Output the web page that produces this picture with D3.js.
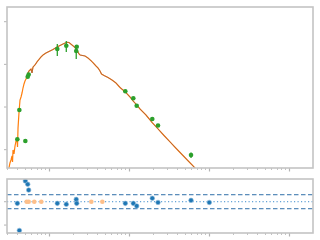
<!DOCTYPE html>
<html><head><meta charset="utf-8">
<script src="https://cdn.jsdelivr.net/npm/d3@7"></script>
<style>html,body{margin:0;padding:0;background:#fff;}svg{display:block;}</style>
</head><body>
<svg id="c" width="320" height="240"></svg>
<script>
// Model spectrum (wavelength, flux)
const modelWave = [316,325,335,345,350,355,365,376,387,398,404,410,422,434,447,460,473,487,501,516,531,546,562,579,596,613,631,668,708,750,794,841,917,1029,1122,1259,1413,1540,1679,1778,1939,2113,2239,2371,2441,2818,3073,3447,3868,4097,4340,4530,4870,5464,6130,6879,7718,8913,10290,11220,12480,13730,16310,19390,23050,27380,32550,38680,45970,54640,66830,77180];
const modelFlux = [3.73e-15,4.89e-15,5.74e-15,7.13e-15,5.15e-15,9.84e-15,7.93e-15,1.22e-14,1.60e-14,1.69e-14,1.16e-14,3.23e-14,7.66e-14,1.46e-13,1.72e-13,2.13e-13,2.79e-13,3.47e-13,4.07e-13,4.54e-13,5.34e-13,6.28e-13,7.00e-13,7.38e-13,7.78e-13,6.28e-13,8.67e-13,9.66e-13,1.14e-12,1.30e-12,1.49e-12,1.66e-12,1.85e-12,2.06e-12,2.23e-12,2.55e-12,2.84e-12,3.08e-12,3.29e-12,3.26e-12,2.84e-12,2.48e-12,2.17e-12,1.75e-12,1.66e-12,1.57e-12,1.41e-12,1.16e-12,9.16e-13,8.22e-13,7.00e-13,5.94e-13,5.48e-13,4.92e-13,4.30e-13,3.66e-13,2.87e-13,2.29e-13,1.72e-13,1.39e-13,1.12e-13,8.99e-14,6.50e-14,4.35e-14,3.06e-14,2.15e-14,1.52e-14,1.08e-14,7.72e-15,5.50e-15,3.73e-15,2.84e-15];
// Observed photometry
const obsWave = [402,426,506,542,557,1270,1645,2220,2190,8990,11320,12480,19550,23050,59600,100900];
const obsFlux = [1.75e-14,8.53e-14,1.60e-14,5.14e-13,5.79e-13,2.29e-12,2.74e-12,2.59e-12,2.06e-12,2.34e-13,1.60e-13,1.07e-13,5.25e-14,3.69e-14,7.52e-15,1.5e-15];
const obsErr  = [1e-15,3e-15,1e-15,2e-14,2e-14,0.72e-12,0.79e-12,0.2e-12,0.72e-12,8e-15,5e-15,4e-15,2e-15,1.5e-15,1.1e-15,1e-16];
// Residuals
const residWave = [402,426,506,542,557,1270,1645,2190,2220,8990,11320,12480,19550,23050,59600,100900];
const residVal  = [-0.7,-12.3,8.9,7.5,5.0,-0.7,-1.1,1.0,-0.7,-0.7,-0.7,-1.8,1.5,-0.3,0.6,-0.3];
const limitWave = [526,557,655,801,3380,4640];
const limitVal  = [0,0,0,0,0,0];
const residBands = [-3, 3];

const svg = d3.select("#c");
const L = 7, R = 313, T1 = 7, B1 = 168, T2 = 179, B2 = 233;
const axisColor = "#c4c4c4", tickColor = "#b4b4b4";

const x = d3.scaleLog().domain([298.5, 1995262]).range([L, R]);
const y = d3.scaleLog().domain([3.72e-15, 2.21e-11]).range([B1, T1]);
const yr = d3.scaleLinear().domain([-13.4, 9.74]).range([B2, T2]);

svg.append("defs").call(d=>{
  d.append("clipPath").attr("id","cp1").append("rect").attr("x",L).attr("y",T1).attr("width",R-L).attr("height",B1-T1);
  d.append("clipPath").attr("id","cp2").append("rect").attr("x",L).attr("y",T2).attr("width",R-L).attr("height",B2-T2);
});

// x ticks
const xt = [];
for (let dec = 2; dec <= 6; dec++) for (let m = 1; m <= 9; m++) {
  const v = m * Math.pow(10, dec);
  if (v >= x.domain()[0] && v <= x.domain()[1]) xt.push({v, major: m === 1});
}
function xTicks(yb) {
  svg.append("g").selectAll("line").data(xt).join("line")
    .attr("x1", d => Math.round(x(d.v)) + 0.5).attr("x2", d => Math.round(x(d.v)) + 0.5)
    .attr("y1", yb).attr("y2", d => yb + (d.major ? 3.5 : 2))
    .attr("stroke", tickColor).attr("stroke-width", d => d.major ? 1.2 : 0.8);
}
xTicks(B1); xTicks(B2);
// y ticks top
const yt = [1e-14, 1e-13, 1e-12, 1e-11];
svg.append("g").selectAll("line").data(yt).join("line")
  .attr("x1", L - 3).attr("x2", L).attr("y1", d => y(d)).attr("y2", d => y(d))
  .attr("stroke", tickColor).attr("stroke-width", 1);
svg.append("g").selectAll("line").data([-10, 0]).join("line")
  .attr("x1", L - 3).attr("x2", L).attr("y1", d => yr(d)).attr("y2", d => yr(d))
  .attr("stroke", tickColor).attr("stroke-width", 1);

// top panel content
const g1 = svg.append("g").attr("clip-path", "url(#cp1)");
const pts = modelWave.map((w, i) => [w, modelFlux[i]]);
const line = d3.line().x(d => x(d[0])).y(d => y(d[1]));
g1.append("path").attr("d", line(pts)).attr("fill", "none").attr("stroke", "#ff7f0e").attr("stroke-width", 1.2);
g1.append("path").attr("d", line(pts.filter(d => d[0] >= 540)))
  .attr("fill", "none").attr("stroke", "#8c564b").attr("stroke-opacity", 0.6).attr("stroke-width", 1);

g1.append("g").selectAll("line").data(obsWave.map((w, i) => i)).join("line")
  .attr("x1", i => x(obsWave[i])).attr("x2", i => x(obsWave[i]))
  .attr("y1", i => y(obsFlux[i] + obsErr[i]))
  .attr("y2", i => y(Math.max(obsFlux[i] - obsErr[i], 1e-16)))
  .attr("stroke", "#2ca02c").attr("stroke-width", 1.3);
g1.append("g").selectAll("circle").data(obsWave.map((w, i) => i)).join("circle")
  .attr("cx", i => x(obsWave[i])).attr("cy", i => y(obsFlux[i])).attr("r", 2.3)
  .attr("fill", "#2ca02c");

// residual panel content
const g2 = svg.append("g").attr("clip-path", "url(#cp2)");
g2.append("g").selectAll("line").data(residBands).join("line")
  .attr("x1", L).attr("x2", R).attr("y1", d => yr(d)).attr("y2", d => yr(d))
  .attr("stroke", "#2f6fa8").attr("stroke-width", 1).attr("stroke-dasharray", "4.5,2.5");
g2.append("line").attr("x1", L).attr("x2", R).attr("y1", yr(0)).attr("y2", yr(0))
  .attr("stroke", "#3d8ccc").attr("stroke-width", 1).attr("stroke-dasharray", "1.2,2.3");
g2.append("g").selectAll("circle").data(limitWave.map((w, i) => i)).join("circle")
  .attr("cx", i => x(limitWave[i])).attr("cy", i => yr(limitVal[i])).attr("r", 2.3)
  .attr("fill", "#fdbf8a");
g2.append("g").selectAll("circle").data(residWave.map((w, i) => i)).join("circle")
  .attr("cx", i => x(residWave[i])).attr("cy", i => yr(residVal[i])).attr("r", 2.3)
  .attr("fill", "#1f77b4").attr("stroke", "#8fbbdc").attr("stroke-width", 0.6);

// frames
[[T1, B1], [T2, B2]].forEach(([t, b]) => {
  svg.append("rect").attr("x", L).attr("y", t).attr("width", R - L).attr("height", b - t)
    .attr("fill", "none").attr("stroke", axisColor).attr("stroke-width", 1.6);
});
</script>
</body></html>
